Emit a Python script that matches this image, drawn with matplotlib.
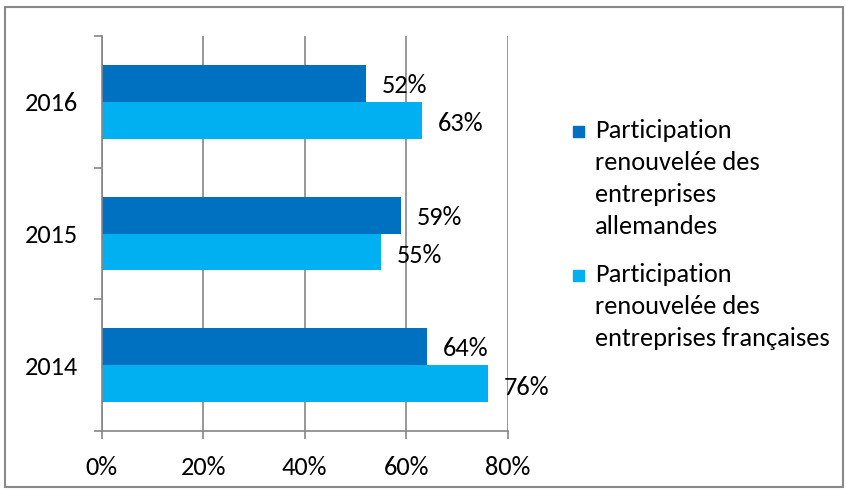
import matplotlib
matplotlib.use("Agg")
import matplotlib.pyplot as plt
from matplotlib.patches import Rectangle
import numpy as np

plt.rcParams['font.family'] = ['Carlito', 'Lato', 'DejaVu Sans']

years = ["2014", "2015", "2016"]
series_names = ["Participation\nrenouvelée des\nentreprises\nallemandes",
                "Participation\nrenouvelée des\nentreprises françaises"]
allemandes = [64, 59, 52]
francaises = [76, 55, 63]
x_ticks = [0, 20, 40, 60, 80]
x_tick_labels = ["0%", "20%", "40%", "60%", "80%"]
colors = ["#0070C0", "#00B0F0"]

W, H = 846, 492
fig = plt.figure(figsize=(W / 100, H / 100), dpi=100)
fig.patch.set_facecolor("white")

# outer frame
fig.add_artist(Rectangle((5 / W, 1 - 487 / H), (843 - 5) / W, (487 - 7) / H,
                         transform=fig.transFigure, fill=False,
                         edgecolor="#898989", lw=1.5))

ax = fig.add_axes([101.5 / W, 1 - 431 / H, (508 - 101.5) / W, (431 - 36) / H])
fs = 19
gray = "#868686"

y = np.arange(len(years))
h = 0.28
ax.barh(y + h / 2, allemandes, height=h, color=colors[0], zorder=3)
ax.barh(y - h / 2, francaises, height=h, color=colors[1], zorder=3)

for yi, v in zip(y + h / 2, allemandes):
    ax.annotate(f"{v}%", (v, yi), xytext=(11.5, -1.5), textcoords="offset points",
                ha="left", va="center", fontsize=fs)
for yi, v in zip(y - h / 2, francaises):
    ax.annotate(f"{v}%", (v, yi), xytext=(11.5, -2.5), textcoords="offset points",
                ha="left", va="center", fontsize=fs)

ax.set_xlim(0, 80)
ax.set_ylim(-0.5, 2.5)
ax.set_xticks(x_ticks)
ax.set_xticklabels(x_tick_labels, fontsize=fs)
ax.set_yticks(y)
ax.set_yticklabels(years, fontsize=fs)
ax.set_yticks([-0.5, 0.5, 1.5, 2.5], minor=True)
ax.tick_params(axis="y", which="major", length=0, pad=17)
ax.tick_params(axis="y", which="minor", length=5.5, width=1.2, color=gray, direction="out")
ax.tick_params(axis="x", which="major", length=6, width=1.2, color=gray, direction="out", pad=12)

ax.grid(axis="x", color=gray, lw=1.2, zorder=1)
for s in ["top", "right"]:
    ax.spines[s].set_visible(False)
for s in ["left", "bottom"]:
    ax.spines[s].set_color(gray)
    ax.spines[s].set_linewidth(1.2)
    ax.spines[s].set_zorder(4)

# legend
line_h = 32
starts = [131, 275]
for name, col, y0 in zip(series_names, colors, starts):
    fig.add_artist(Rectangle((573 / W, 1 - (y0 + 6) / H), 11 / W, 11 / H,
                             transform=fig.transFigure, color=col))
    for i, line in enumerate(name.split("\n")):
        fig.text(595 / W, 1 - (y0 + i * line_h) / H, line, fontsize=fs,
                 ha="left", va="center")

fig.savefig("out.png", dpi=100)
